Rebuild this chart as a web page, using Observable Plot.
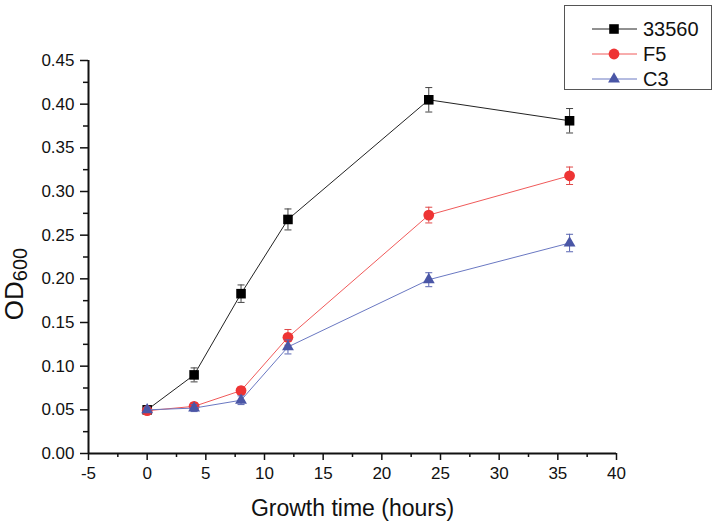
<!DOCTYPE html>
<html>
<head>
<meta charset="utf-8">
<script src="https://cdn.jsdelivr.net/npm/d3@7"></script>
<script src="https://cdn.jsdelivr.net/npm/@observablehq/plot@0.6"></script>
<style>
  html, body { margin: 0; padding: 0; background: #fff; }
  #chart { width: 717px; height: 527px; }
</style>
</head>
<body>
<div id="chart"></div>
<script>
// ---- data ----
const times = [0, 4, 8, 12, 24, 36];
const seriesNames = ["33560", "F5", "C3"];
const od33560 = [0.050, 0.090, 0.183, 0.268, 0.405, 0.381];
const err33560 = [0.003, 0.008, 0.010, 0.012, 0.014, 0.014];
const odF5 = [0.049, 0.054, 0.072, 0.133, 0.273, 0.318];
const errF5 = [0.003, 0.004, 0.004, 0.009, 0.009, 0.010];
const odC3 = [0.050, 0.052, 0.061, 0.122, 0.199, 0.241];
const errC3 = [0.003, 0.004, 0.005, 0.008, 0.008, 0.010];
const xTicks = [-5, 0, 5, 10, 15, 20, 25, 30, 35, 40];
const xMinorTicks = [-2.5, 2.5, 7.5, 12.5, 17.5, 22.5, 27.5, 32.5, 37.5];
const yTicks = [0, 0.05, 0.10, 0.15, 0.20, 0.25, 0.30, 0.35, 0.40, 0.45];
const yMinorTicks = [0.025, 0.075, 0.125, 0.175, 0.225, 0.275, 0.325, 0.375, 0.425];
const xLabel = "Growth time (hours)";

// ---- styles ----
const styles = {
  "33560": {marker: "#000000", line: "#222222", err: "#444444", symbol: "square", r: 5.4},
  "F5":    {marker: "#ee3434", line: "#f05a5a", err: "#e04a4a", symbol: "circle", r: 5.4},
  "C3":    {marker: "#4a56a6", line: "#6a78c2", err: "#5a66b2", symbol: "triangle", r: 4.4}
};

const values = {"33560": od33560, "F5": odF5, "C3": odC3};
const errors = {"33560": err33560, "F5": errF5, "C3": errC3};

const capSymbol = {
  draw(context) {
    context.moveTo(-3.5, 0);
    context.lineTo(3.5, 0);
  }
};

const marks = [];
for (const name of seriesNames) {
  const rows = times.map((t, i) => ({t, v: values[name][i], e: errors[name][i]}));
  const s = styles[name];
  marks.push(Plot.line(rows, {x: "t", y: "v", stroke: s.line, strokeWidth: 1}));
  marks.push(Plot.ruleX(rows, {x: "t", y1: d => d.v - d.e, y2: d => d.v + d.e, stroke: s.err, strokeWidth: 1}));
  marks.push(Plot.dot(rows, {x: "t", y: d => d.v - d.e, symbol: capSymbol, fill: "none", stroke: s.err, strokeWidth: 1}));
  marks.push(Plot.dot(rows, {x: "t", y: d => d.v + d.e, symbol: capSymbol, fill: "none", stroke: s.err, strokeWidth: 1}));
  marks.push(Plot.dot(rows, {x: "t", y: "v", symbol: s.symbol, r: s.r, fill: s.marker, stroke: "none"}));
}

const chart = Plot.plot({
  width: 717,
  height: 527,
  marginLeft: 88,
  marginRight: 101,
  marginTop: 60,
  marginBottom: 74,
  x: {domain: [-5, 40]},
  y: {domain: [0, 0.45]},
  style: {fontFamily: "'Liberation Sans', Arial, sans-serif", fontSize: "17px", color: "#111", background: "white"},
  marks: [
    Plot.axisX({ticks: xTicks, tickSize: 7, tickPadding: 6, strokeWidth: 1.5, fontSize: 17, tickFormat: d => String(d), label: null}),
    Plot.axisX({ticks: xMinorTicks, tickSize: 4, strokeWidth: 1.5, text: null, label: null}),
    Plot.axisY({ticks: yTicks, tickSize: 8, tickPadding: 6, strokeWidth: 1.5, fontSize: 17, tickFormat: d3.format(".2f"), label: null}),
    Plot.axisY({ticks: yMinorTicks, tickSize: 5, strokeWidth: 1.5, text: null, label: null}),
    Plot.ruleX([-5], {stroke: "#111", strokeWidth: 2}),
    Plot.ruleY([0], {stroke: "#111", strokeWidth: 2}),
    Plot.text([xLabel], {frameAnchor: "bottom", lineAnchor: "middle", dy: 55, fontSize: 23, fill: "#111"}),
    ...marks
  ]
});

document.getElementById("chart").appendChild(chart);

// ---- y axis title with subscript ----
const svg = d3.select(chart);
const yTitle = svg.append("text")
  .attr("transform", "translate(23,284) rotate(-90)")
  .attr("text-anchor", "middle")
  .attr("font-family", "'Liberation Sans', Arial, sans-serif")
  .attr("font-size", 26)
  .attr("fill", "#111");
yTitle.append("tspan").text("OD");
yTitle.append("tspan").attr("font-size", 20).attr("dy", 4).text("600");

// ---- legend ----
const lg = svg.append("g").attr("font-family", "'Liberation Sans', Arial, sans-serif");
lg.append("rect").attr("x", 564.5).attr("y", 5.5).attr("width", 147).attr("height", 84)
  .attr("fill", "white").attr("stroke", "#555").attr("stroke-width", 1);
const symbolTypes = {square: d3.symbolSquare, circle: d3.symbolCircle, triangle: d3.symbolTriangle};
seriesNames.forEach((name, i) => {
  const s = styles[name];
  const y = 29 + i * 25;
  lg.append("line").attr("x1", 592).attr("x2", 637).attr("y1", y).attr("y2", y)
    .attr("stroke", s.line).attr("stroke-width", 1);
  lg.append("path").attr("transform", `translate(614,${y})`)
    .attr("d", d3.symbol(symbolTypes[s.symbol], Math.PI * s.r * s.r)())
    .attr("fill", s.marker);
  lg.append("text").attr("x", 643).attr("y", y).attr("dy", "0.35em")
    .attr("text-anchor", "start")
    .attr("font-size", 20).attr("fill", "#111").text(name);
});
</script>
</body>
</html>
